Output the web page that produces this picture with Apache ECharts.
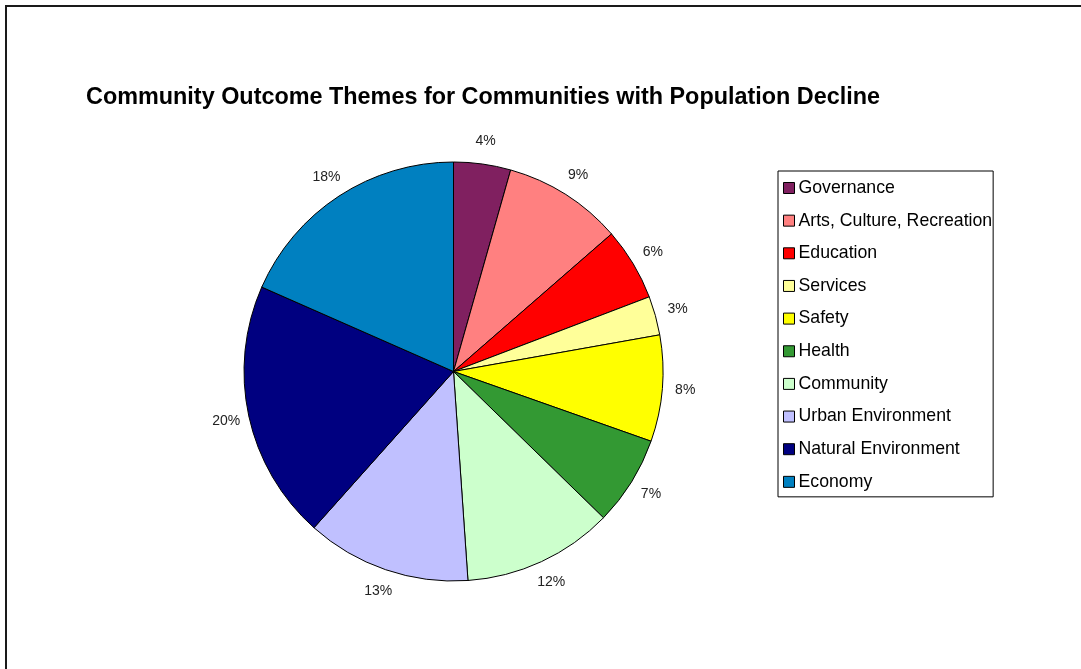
<!DOCTYPE html>
<html>
<head>
<meta charset="utf-8">
<title>Community Outcome Themes for Communities with Population Decline</title>
<script src="https://cdn.jsdelivr.net/npm/echarts@6/dist/echarts.min.js"></script>
<style>
  html, body { margin: 0; padding: 0; background: #ffffff; }
  #chart { width: 1081px; height: 669px; }
</style>
</head>
<body>
<div id="chart"></div>
<script>
// Share of community outcome themes (percent of all outcomes)
const themes = [
  'Governance',
  'Arts, Culture, Recreation',
  'Education',
  'Services',
  'Safety',
  'Health',
  'Community',
  'Urban Environment',
  'Natural Environment',
  'Economy'
];
const shares = [4.4, 9.2, 5.6, 3.0, 8.2, 6.9, 11.6, 12.7, 20.0, 18.4];
const themeColors = [
  '#802060', '#FF8080', '#FF0000', '#FFFF99', '#FFFF00',
  '#339933', '#CCFFCC', '#C0C0FF', '#000080', '#0080C0'
];

const chartTitle = 'Community Outcome Themes for Communities with Population Decline';
const FONT = '"Liberation Sans", Arial, Helvetica, sans-serif';

const chart = echarts.init(document.getElementById('chart'), null, { renderer: 'canvas' });

const pieData = themes.map((name, i) => ({
  name: name,
  value: shares[i],
  itemStyle: { color: themeColors[i] }
}));

const PIE_CENTER = [453.5, 371.5];
const PIE_RADIUS = 209.5;

chart.setOption({
  animation: false,
  backgroundColor: '#ffffff',
  title: {
    text: chartTitle,
    left: 86,
    top: 86,
    padding: 0,
    textStyle: {
      fontFamily: FONT,
      fontSize: 23.4,
      fontWeight: 'bold',
      color: '#000000'
    }
  },
  legend: {
    orient: 'vertical',
    left: 778,
    top: 171,
    padding: [8, 1, 6, 5],
    itemGap: 14.65,
    itemWidth: 11,
    itemHeight: 11,
    icon: 'rect',
    selectedMode: false,
    borderColor: '#000000',
    borderWidth: 1,
    data: themes,
    itemStyle: { borderColor: '#000000', borderWidth: 1 },
    textStyle: {
      fontFamily: FONT,
      fontSize: 17.7,
      color: '#000000',
      padding: [0, 0, 0, -1]
    }
  },
  graphic: [{
    type: 'polyline',
    shape: { points: [[6, 669], [6, 6], [1081, 6]] },
    style: { stroke: '#1a1a1a', lineWidth: 2, fill: null },
    silent: true
  }],
  series: [
    {
      name: 'Themes',
      type: 'pie',
      center: PIE_CENTER,
      radius: [0, PIE_RADIUS],
      startAngle: 90,
      clockwise: true,
      avoidLabelOverlap: false,
      label: { show: false },
      labelLine: { show: false },
      itemStyle: { borderColor: '#000000', borderWidth: 1 },
      emphasis: { disabled: true },
      data: pieData
    },
    {
      // transparent ring that carries the percentage labels around the pie
      name: 'Percent labels',
      type: 'pie',
      center: PIE_CENTER,
      radius: [PIE_RADIUS, PIE_RADIUS + 40],
      startAngle: 90,
      clockwise: true,
      silent: true,
      percentPrecision: 0,
      avoidLabelOverlap: false,
      itemStyle: { color: 'rgba(0,0,0,0)', borderWidth: 0 },
      emphasis: { disabled: true },
      labelLine: { show: false },
      label: {
        show: true,
        position: 'inside',
        formatter: '{d}%',
        fontFamily: FONT,
        fontSize: 14,
        color: '#222222'
      },
      data: themes.map((name, i) => ({ name: name, value: shares[i] }))
    }
  ]
});
</script>
</body>
</html>
